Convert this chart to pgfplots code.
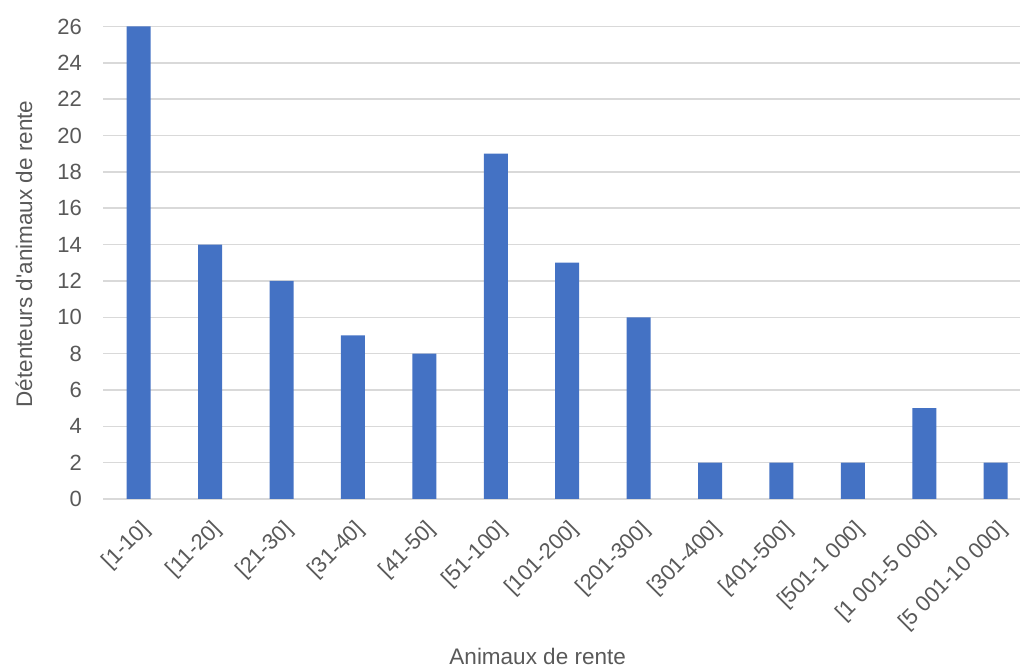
\documentclass[border=0pt]{standalone}
\usepackage{fontspec}
\setmainfont{Liberation Sans}
\usepackage{pgfplots}
\pgfplotsset{compat=1.18}

\definecolor{barblue}{HTML}{4472C4}
\definecolor{txtgray}{HTML}{595959}
\definecolor{gridgray}{HTML}{D9D9D9}

\begin{document}
\begin{tikzpicture}
  \useasboundingbox (0,0) rectangle (1021pt,668pt);
  \begin{axis}[
    at={(103pt,169pt)}, anchor=south west,
    scale only axis,
    width=917pt, height=472.5pt,
    xmin=-0.5, xmax=12.34,
    ymin=0, ymax=26,
    ytick={0,2,...,26},
    xtick={0,...,12},
    xticklabels={{[1-10]},{[11-20]},{[21-30]},{[31-40]},{[41-50]},{[51-100]},
      {[101-200]},{[201-300]},{[301-400]},{[401-500]},{[501-1 000]},
      {[1 001-5 000]},{[5 001-10 000]}},
    ymajorgrids=true,
    grid style={gridgray, line width=1.5pt},
    axis line style={draw=none},
    major tick length=0pt,
    tick label style={font=\fontsize{22}{26}\selectfont, text=txtgray},
    /pgf/number format/assume math mode=true,
    yticklabel style={inner sep=0pt, xshift=-21pt},
    % shifts are in the rotated frame: about 8 right, 27 down on the page
    xticklabel style={rotate=45, anchor=east, inner sep=0pt,
      xshift=-13.4pt, yshift=-24.7pt},
    xlabel={Animaux de rente},
    ylabel={D\'etenteurs d\textquotesingle animaux de rente},
    label style={font=\fontsize{22.5}{26}\selectfont, text=txtgray, inner sep=0pt},
    xlabel style={at={(axis description cs:0.474,-0.334)}, anchor=center},
    ylabel style={at={(axis description cs:-0.0862,0.5185)}, anchor=center, rotate=0},
  ]
    % Détenteurs par classe de taille
    \addplot[ybar, bar width=24pt, bar shift=0pt, fill=barblue, draw=none]
      coordinates {
        (0,26) (1,14) (2,12) (3,9) (4,8) (5,19) (6,13)
        (7,10) (8,2) (9,2) (10,2) (11,5) (12,2)
      };
  \end{axis}
\end{tikzpicture}
\end{document}
